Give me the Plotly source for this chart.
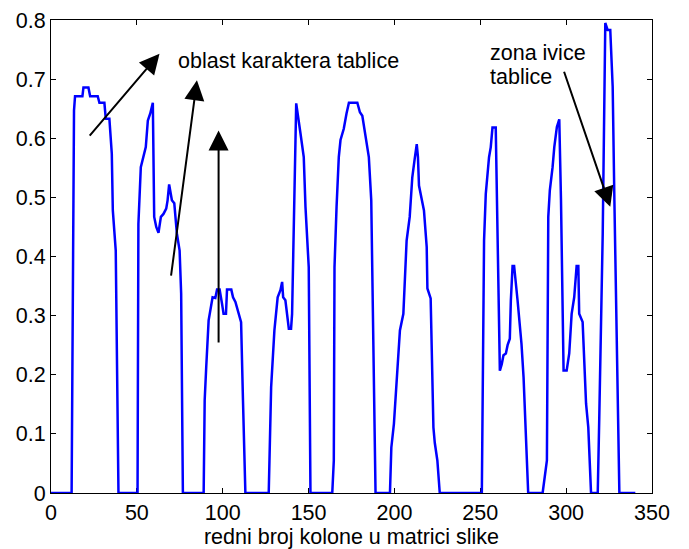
import plotly.graph_objects as go

# column index (x) and normalized value (y)
col_idx = [0, 12, 13.4, 14.0, 18.3, 18.9, 21.8, 22.8, 27.2, 28.2, 31.1, 31.9, 34.0, 35.4, 36.0, 37.7, 39.3,
           50.4, 50.9, 52.3, 55.2, 56.4, 57.8, 59.3, 60.1, 61.3, 62.6, 64.0, 65.5, 67.1, 67.9, 68.8, 70.4, 71.8,
           73.3, 74.9, 75.8, 76.8,
           88.9, 89.5, 90.4, 91.8, 94.1, 95.7, 96.7, 98.2, 99.6, 100.5, 101.9, 102.5, 105.0, 106.0, 107.4, 109.3,
           110.7, 111.8, 113.2,
           126.8, 128.2, 130.1, 132.0, 133.6, 134.6, 135.2, 136.5, 138.5, 139.8, 140.4, 141.4, 142.8, 145.3, 147.2,
           148.2, 150.1, 151.1,
           163.8, 164.7, 165.1, 166.3, 167.6, 168.6, 170.5, 172.1, 173.5, 178.4, 179.9, 181.3, 182.6, 185.1, 186.5,
           188.0, 189.0,
           197.4, 198.2, 199.7, 201.3, 203.2, 205.2, 207.1, 208.9, 210.4, 211.8, 213.0, 213.7, 214.3, 217.2, 218.8,
           219.2, 221.1, 222.7, 223.5, 225.0, 226.4,
           250.9, 251.6, 252.2, 253.2, 255.1, 256.1, 257.1, 259.0, 260.0, 261.4, 262.5, 263.5, 264.9, 265.9, 267.2,
           267.8, 268.8, 269.7, 271.7, 274.0, 275.2, 276.5, 277.9,
           286.3, 288.8, 289.6, 290.5, 292.1, 293.1, 294.6, 296.0, 297.0, 298.5, 300.3, 301.8, 303.2, 304.7, 306.1,
           307.1, 307.6, 309.6, 311.6, 312.9, 314.5,
           318.4, 319.3, 321.3, 322.8, 324.2, 325.7, 327.1, 328.1, 329.5, 331.0, 340.3]
values = [0, 0, 0.647, 0.671, 0.671, 0.686, 0.686, 0.671, 0.671, 0.660, 0.660, 0.633, 0.633, 0.574, 0.478, 0.41, 0,
          0, 0.455, 0.551, 0.585, 0.630, 0.642, 0.660, 0.467, 0.450, 0.440, 0.467, 0.472, 0.481, 0.495, 0.522, 0.495,
          0.49, 0.439, 0.41, 0.337, 0,
          0, 0.157, 0.213, 0.292, 0.331, 0.33, 0.344, 0.344, 0.32, 0.303, 0.303, 0.344, 0.344, 0.331, 0.323, 0.303,
          0.289, 0.157, 0,
          0, 0.179, 0.275, 0.331, 0.343, 0.357, 0.331, 0.326, 0.278, 0.278, 0.303, 0.439, 0.659, 0.608, 0.568,
          0.484, 0.382, 0,
          0, 0.055, 0.382, 0.484, 0.568, 0.597, 0.616, 0.642, 0.66, 0.66, 0.644, 0.638, 0.613, 0.568, 0.495,
          0.157, 0,
          0, 0.077, 0.117, 0.190, 0.275, 0.303, 0.427, 0.467, 0.534, 0.565, 0.590, 0.568, 0.520, 0.478, 0.416,
          0.346, 0.329, 0.111, 0.085, 0.055, 0,
          0, 0.269, 0.427, 0.506, 0.568, 0.585, 0.618, 0.618, 0.439, 0.207, 0.218, 0.233, 0.236, 0.250, 0.261,
          0.326, 0.384, 0.384, 0.326, 0.252, 0.196, 0.1, 0,
          0, 0.055, 0.467, 0.512, 0.551, 0.585, 0.619, 0.632, 0.495, 0.207, 0.207, 0.236, 0.303, 0.331, 0.384,
          0.384, 0.303, 0.289, 0.151, 0.111, 0,
          0, 0.128, 0.439, 0.795, 0.783, 0.783, 0.687, 0.495, 0.213, 0, 0]

x_ticks = [0, 50, 100, 150, 200, 250, 300, 350]
y_ticks = [0, 0.1, 0.2, 0.3, 0.4, 0.5, 0.6, 0.7, 0.8]
y_tick_labels = ["0", "0.1", "0.2", "0.3", "0.4", "0.5", "0.6", "0.7", "0.8"]

x_label = "redni broj kolone u matrici slike"
label_chars = "oblast karaktera tablice"
label_edge_lines = ["zona ivice", "tablice"]

# arrows: (tail_x, tail_y, head_x, head_y)
arrows = [(21.8, 0.602, 63.2, 0.743),
          (69.8, 0.365, 85.0, 0.698),
          (97.6, 0.252, 97.6, 0.613),
          (298.5, 0.715, 325.7, 0.484)]

FONT = "Liberation Sans, Arial, sans-serif"
FS = 21.5

fig = go.Figure()
fig.add_trace(go.Scatter(x=col_idx, y=values, mode="lines",
                         line=dict(color="#0000ff", width=2.5), showlegend=False))

annotations = []
for tx, ty, hx, hy in arrows:
    annotations.append(dict(x=hx, y=hy, ax=tx, ay=ty, xref="x", yref="y", axref="x", ayref="y",
                            text="", showarrow=True, arrowhead=2, arrowsize=2, arrowwidth=2,
                            arrowcolor="black"))
annotations.append(dict(x=72.9, y=0.73, xref="x", yref="y", text=label_chars, showarrow=False,
                        xanchor="left", yanchor="middle", font=dict(family=FONT, size=FS, color="black")))
for i, (line, ly) in enumerate(zip(label_edge_lines, [0.745, 0.703])):
    annotations.append(dict(x=254.5, y=ly, xref="x", yref="y", text=line, showarrow=False,
                            xanchor="left", yanchor="middle",
                            font=dict(family=FONT, size=FS, color="black")))

axis_common = dict(showline=True, linecolor="black", linewidth=1, mirror="ticks", ticks="inside",
                   ticklen=5, tickcolor="black", showgrid=False, zeroline=False, automargin=False,
                   tickfont=dict(family=FONT, size=FS, color="black"), layer="below traces")

# page body has an 8px margin; size the figure so that it fits the 689x549 window
fig.update_layout(
    width=681, height=541,
    margin=dict(l=43, r=37, t=12, b=56),
    paper_bgcolor="white", plot_bgcolor="white",
    xaxis=dict(range=[0, 350], tickvals=x_ticks, title=dict(text=x_label, standoff=5,
               font=dict(family=FONT, size=FS, color="black")), **axis_common),
    yaxis=dict(range=[0, 0.8], tickvals=y_ticks, ticktext=y_tick_labels, **axis_common),
    annotations=annotations,
)

fig.write_html("out.html")
